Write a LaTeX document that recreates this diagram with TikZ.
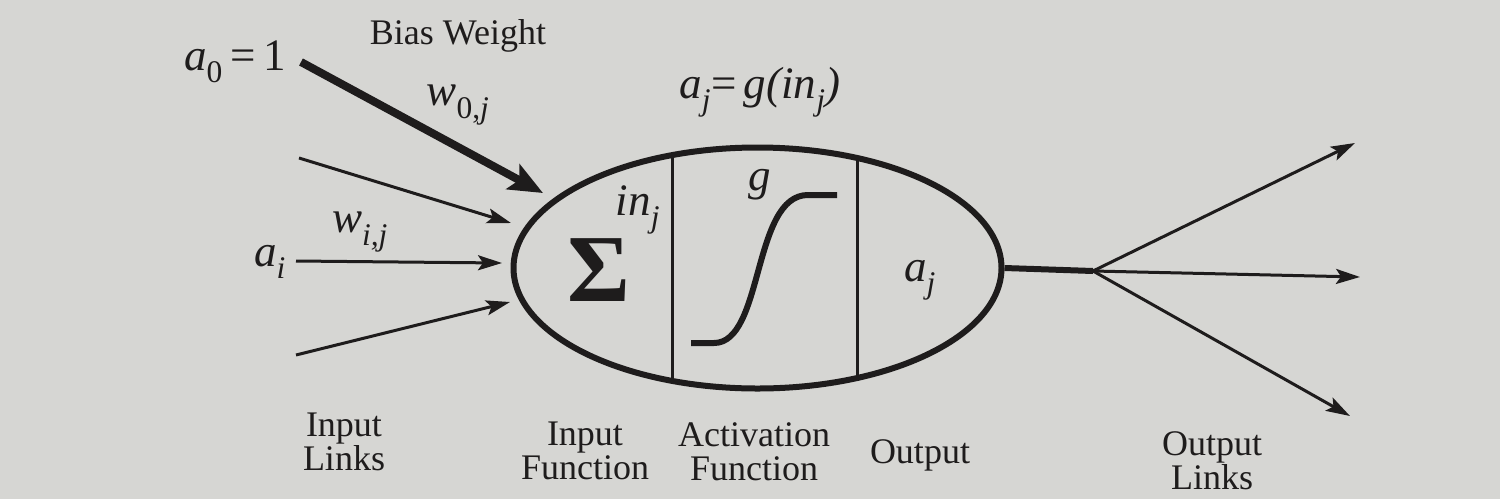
\documentclass[tikz,border=0pt]{standalone}
\usepackage{fontspec}
\setmainfont{Liberation Serif}
\usetikzlibrary{arrows.meta,shapes.geometric}
\definecolor{paper}{RGB}{214,214,211}
\definecolor{ink}{RGB}{30,28,28}
\newcommand\mysub[1]{\textsubscript{#1}}
\begin{document}
\begin{tikzpicture}[x=1pt,y=-1pt,
  lbl/.style={font=\fontsize{36}{34}\selectfont, text=ink, align=center, inner sep=0},
  mth/.style={font=\fontsize{45}{45}\selectfont\itshape, text=ink, inner sep=0},
  thinlink/.style={draw=ink, line width=3pt, -{Stealth[length=24pt,width=15pt,inset=5pt]}},
  biaslink/.style={draw=ink, line width=8pt, -{Stealth[length=34pt,width=28pt,inset=7pt]}},
]
\fill[paper] (0,0) rectangle (1500,499);
\useasboundingbox (0,0) rectangle (1500,499);

% neuron body
\node[ellipse, draw=ink, line width=6pt, minimum width=488pt, minimum height=241pt, inner sep=0] (neuron) at (757.5,268) {};
\begin{scope}
  \clip (757.5,268) ellipse [x radius=244, y radius=120.5];
  \draw[ink, line width=3pt] (672,140) -- (672,400);
  \draw[ink, line width=3pt] (857,140) -- (857,400);
\end{scope}

% sigmoid
\draw[ink, line width=6pt] (691,343) -- (714,343) .. controls (764,343) and (752,195) .. (808,195) -- (837,195);

% labels inside
\node[text=ink, inner sep=0, font=\fontsize{96}{96}\selectfont\bfseries] (sigma) at (599,270) {Σ};
\node[mth] (inj) at (638,210) {in\mysub{j}};
\node[mth] (g) at (760,185) {g};
\node[mth] (aj) at (920,280) {a\mysub{j}};
\node[mth] (ajeq) at (760,92) {a\mysub{j}{\upshape =}\,g(in\mysub{j})};

% input side
\node[lbl] (bias) at (458,36) {Bias Weight};
\node[mth] (a0) at (235,62) {a\mysub{\upshape 0}{\upshape\,=\,1}};
\node[mth] (w0j) at (458,105) {w\mysub{\upshape 0,\itshape j}};
\node[mth] (wij) at (360,232) {w\mysub{i,j}};
\node[mth] (ai) at (270,262) {a\mysub{i}};

\coordinate (t0) at (301,62);
\coordinate (h0) at (543,193);
\coordinate (t1) at (299,158);
\coordinate (h1) at (511,223);
\coordinate (t2) at (296,261);
\coordinate (h2) at (502,263);
\coordinate (t3) at (296,355);
\coordinate (h3) at (510,302);

\draw[biaslink] (t0) -- (h0);
\draw[thinlink] (t1) -- (h1);
\draw[thinlink] (t2) -- (h2);
\draw[thinlink] (t3) -- (h3);

% output side
\coordinate (fork) at (1093,271);
\coordinate (o1) at (1355,143);
\coordinate (o2) at (1360,277);
\coordinate (o3) at (1350,416);
\draw[ink, line width=6pt] (neuron.east) -- (fork);
\draw[thinlink] (fork) -- (o1);
\draw[thinlink] (fork) -- (o2);
\draw[thinlink] (fork) -- (o3);

% bottom labels
\node[lbl] (inlinks) at (344,442) {Input\\Links};
\node[lbl] (infun) at (585,451) {Input\\Function};
\node[lbl] (actfun) at (754,452) {Activation\\Function};
\node[lbl] (outp) at (920,455) {Output};
\node[lbl] (outlinks) at (1212,461) {Output\\Links};
\end{tikzpicture}
\end{document}
